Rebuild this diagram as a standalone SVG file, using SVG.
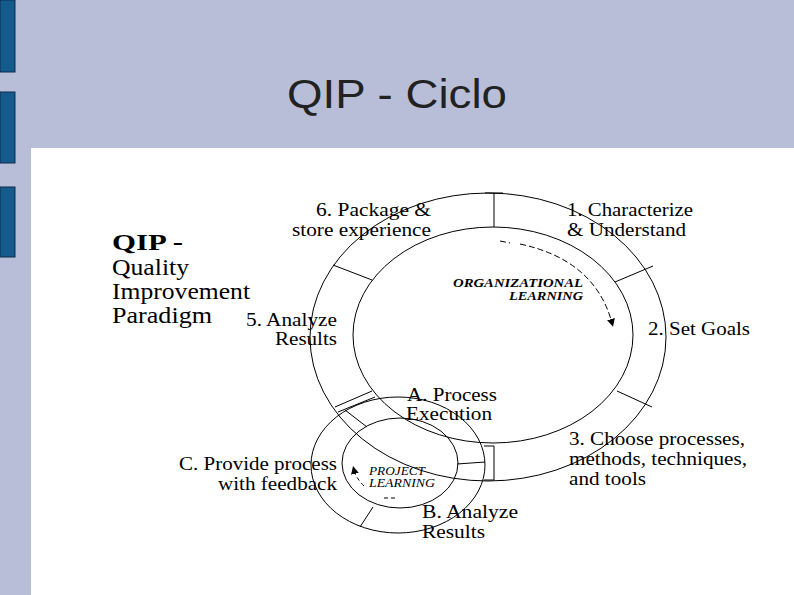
<svg xmlns="http://www.w3.org/2000/svg" width="794" height="595" viewBox="0 0 794 595">
<defs>
<style>
.ln{fill:none;stroke:#000;stroke-width:1}
.t{font-family:"Liberation Serif",serif;font-size:19px;fill:#000}
.it{font-family:"Liberation Serif",serif;font-size:12px;font-style:italic;font-weight:bold;fill:#000}
.b{font-family:"Liberation Serif",serif;font-size:23px;fill:#000}
</style>
<marker id="ah" markerWidth="8" markerHeight="8" refX="4" refY="4" orient="auto"><path d="M0,0L8,4L0,8z" fill="#000"/></marker>
</defs>
<rect width="794" height="595" fill="#b9bed8"/>
<rect x="31" y="148" width="763" height="447" fill="#fff"/>
<g fill="#155a8c" stroke="#0b2d4a">
<rect x="0" y="0" width="15" height="72"/>
<rect x="0" y="92" width="15" height="71"/>
<rect x="0" y="187" width="15" height="70"/>
</g>
<text x="287" y="108" textLength="220" lengthAdjust="spacingAndGlyphs" font-family="Liberation Sans,sans-serif" font-size="40" fill="#222">QIP - Ciclo</text>
<g id="title-block" lengthAdjust="spacingAndGlyphs">
<text class="b" font-weight="bold" x="112" y="250" textLength="71" lengthAdjust="spacingAndGlyphs">QIP -</text>
<text class="b" x="112" y="275" textLength="77" lengthAdjust="spacingAndGlyphs">Quality</text>
<text class="b" x="112" y="299" textLength="138" lengthAdjust="spacingAndGlyphs">Improvement</text>
<text class="b" x="112" y="323" textLength="100" lengthAdjust="spacingAndGlyphs">Paradigm</text>
</g>
<g id="outer-cycle">
<ellipse class="ln" cx="488" cy="337" rx="178" ry="144"/>
<ellipse class="ln" cx="493" cy="335" rx="140" ry="108"/>
</g>
<g id="inner-cycle">
<ellipse class="ln" cx="398" cy="465" rx="87" ry="68" fill="#fff"/>
<ellipse class="ln" cx="400" cy="463" rx="58" ry="45"/>
</g>
<g id="connectors" class="ln">
<path d="M494,193V227M485,193H503"/>
<path d="M615,282L653,266"/>
<path d="M617,391L652,407"/>
<path d="M494,446V480M484,446H494M484,480H494"/>
<path d="M333,265L372,280"/>
<path d="M335,407L372,391M338,412L375,397"/>
<path d="M345,410L367,427"/>
<path d="M457,464L485,462"/>
<path d="M373,507L360,527"/>
<path d="M500,241L510,243M520,244Q595,260 612,323" stroke-dasharray="6,3" marker-end="url(#ah)"/>
<path d="M384,498L397,498M364,486Q356,478 354,470" stroke-dasharray="4,3" marker-end="url(#ah)"/>
</g>
<g id="n1"><text class="t" x="567" y="216" textLength="126" lengthAdjust="spacingAndGlyphs">1. Characterize</text><text class="t" x="567" y="236" textLength="119" lengthAdjust="spacingAndGlyphs">&amp; Understand</text></g>
<g id="n2"><text class="t" x="648" y="335" textLength="102" lengthAdjust="spacingAndGlyphs">2. Set Goals</text></g>
<g id="n3"><text class="t" x="569" y="445" textLength="176" lengthAdjust="spacingAndGlyphs">3. Choose processes,</text><text class="t" x="569" y="465" textLength="178" lengthAdjust="spacingAndGlyphs">methods, techniques,</text><text class="t" x="569" y="485" textLength="77" lengthAdjust="spacingAndGlyphs">and tools</text></g>
<g id="n5"><text class="t" x="246" y="326" textLength="91" lengthAdjust="spacingAndGlyphs">5. Analyze</text><text class="t" x="275" y="345" textLength="62" lengthAdjust="spacingAndGlyphs">Results</text></g>
<g id="n6"><text class="t" x="316" y="216" textLength="115" lengthAdjust="spacingAndGlyphs">6. Package &amp;</text><text class="t" x="292" y="236" textLength="139" lengthAdjust="spacingAndGlyphs">store experience</text></g>
<g id="org"><text class="it" x="453" y="287" textLength="130" lengthAdjust="spacingAndGlyphs">ORGANIZATIONAL</text><text class="it" x="509" y="300" textLength="74" lengthAdjust="spacingAndGlyphs">LEARNING</text></g>
<g id="nA"><text class="t" x="407" y="401" textLength="90" lengthAdjust="spacingAndGlyphs">A. Process</text><text class="t" x="406" y="420" textLength="86" lengthAdjust="spacingAndGlyphs">Execution</text></g>
<g id="nB"><text class="t" x="422" y="518" textLength="96" lengthAdjust="spacingAndGlyphs">B. Analyze</text><text class="t" x="422" y="538" textLength="63" lengthAdjust="spacingAndGlyphs">Results</text></g>
<g id="nC"><text class="t" x="179" y="470" textLength="158" lengthAdjust="spacingAndGlyphs">C. Provide process</text><text class="t" x="218" y="490" textLength="119" lengthAdjust="spacingAndGlyphs">with feedback</text></g>
<g id="proj"><text font-family="Liberation Serif,serif" font-size="12" font-style="italic" x="369" y="475" textLength="56" lengthAdjust="spacingAndGlyphs">PROJECT</text><text font-family="Liberation Serif,serif" font-size="12" font-style="italic" x="369" y="487" textLength="66" lengthAdjust="spacingAndGlyphs">LEARNING</text></g>
</svg>
